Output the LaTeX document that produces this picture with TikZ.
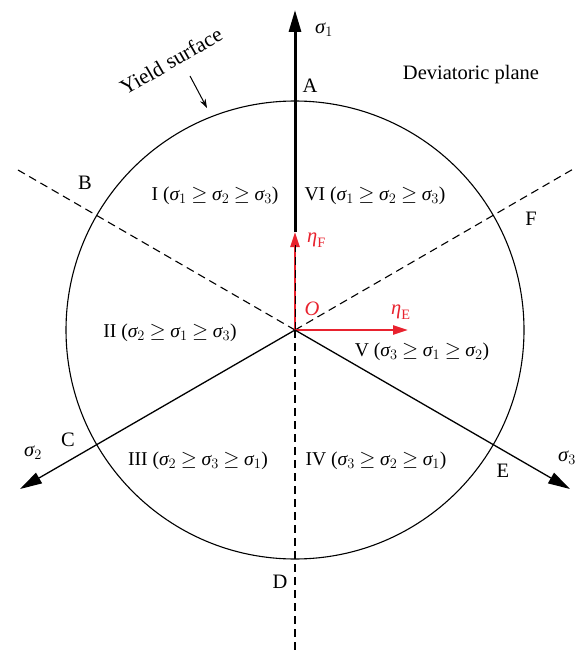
\documentclass[tikz,border=0pt]{standalone}
\usepackage{fontspec}
\setmainfont{Liberation Serif}
\usetikzlibrary{arrows.meta}
\definecolor{etared}{RGB}{232,34,46}
\newcommand{\sg}[1]{\mbox{\itshape σ}_{#1}}
\newcommand{\rl}[4]{#1 ($\thickmuskip=4mu \sg{#2} \geq \sg{#3} \geq \sg{#4}$)}
\begin{document}
\begin{tikzpicture}[x=1pt,y=-1pt,
  lbl/.style={inner sep=0pt,font=\fontsize{20.5}{24}\selectfont},
  reg/.style={inner sep=0pt,font=\fontsize{19.6}{24}\selectfont},
  dashln/.style={draw=black,line width=1.1pt,dash pattern=on 8pt off 5pt},
  axis/.style={draw=black,line width=1.3pt,-{Triangle[length=22pt,width=12pt]}},
  redarr/.style={draw=etared,line width=2.4pt,-{Triangle[length=15pt,width=9pt]}}]
\useasboundingbox (0,0) rectangle (575,652);
\coordinate (O) at (295,330);
\coordinate (S1) at (295,10);
\coordinate (S1b) at (295,232);
\coordinate (S2) at (20,489);
\coordinate (S3) at (570,489);
\coordinate (DB) at (18,170);
\coordinate (DF) at (575,168);
\coordinate (DD) at (295,652);
\coordinate (EF) at (295,232);
\coordinate (EE) at (408,330);
\coordinate (YA) at (190,76);
\coordinate (YB) at (207,108);
% yield surface
\draw[line width=1.1pt] (O) circle[radius=229pt];
% dashed lines
\draw[dashln] (O) -- (DB);
\draw[dashln] (O) -- (DF);
\draw[dashln] (O) -- (DD);
% red vectors
\draw[redarr] (O) -- (EF);
\draw[dashln,line width=0.8pt] (O) -- (295,245);
\draw[redarr] (O) -- (EE);
% axes
\draw[axis,line width=3pt] (S1b) -- (S1);
\draw[axis] (O) -- (S2);
\draw[axis] (O) -- (S3);
% yield surface arrow
\draw[line width=1pt,-{Stealth[length=9pt,width=6pt]}] (YA) -- (YB);
% labels
\node[lbl] (ls1) at (324,30) {$\sg{1}$};
\node[lbl] (lA) at (310,86) {A};
\node[lbl] (ldp) at (471,75) {Deviatoric plane};
\node[lbl,rotate=30,font=\fontsize{21.5}{24}\selectfont] (lys) at (171,61) {Yield surface};
\node[lbl] (lB) at (85,183) {B};
\node[lbl] (lF) at (531,219) {F};
\node[reg] (lI) at (215,196) {\rl{I}{1}{2}{3}};
\node[reg] (lVI) at (375,196) {\rl{VI}{1}{2}{3}};
\node[lbl,text=etared,anchor=west] (leF) at (307,240) {$\mbox{\itshape η}_{\mathrm{F}}$};
\node[lbl,text=etared] (lO) at (312,309) {\itshape O};
\node[lbl,text=etared,anchor=west] (leE) at (391,312) {$\mbox{\itshape η}_{\mathrm{E}}$};
\node[reg] (lII) at (170,333) {\rl{II}{2}{1}{3}};
\node[reg] (lV) at (422,352) {\rl{V}{3}{1}{2}};
\node[lbl] (lC) at (68,440) {C};
\node[lbl] (ls2) at (33,453) {$\sg{2}$};
\node[lbl] (ls3) at (567,458) {$\sg{3}$};
\node[lbl] (lE) at (503,471) {E};
\node[reg] (lIII) at (198,461) {\rl{III}{2}{3}{1}};
\node[reg] (lIV) at (376,461) {\rl{IV}{3}{2}{1}};
\node[lbl] (lD) at (280,582) {D};
\end{tikzpicture}
\end{document}
